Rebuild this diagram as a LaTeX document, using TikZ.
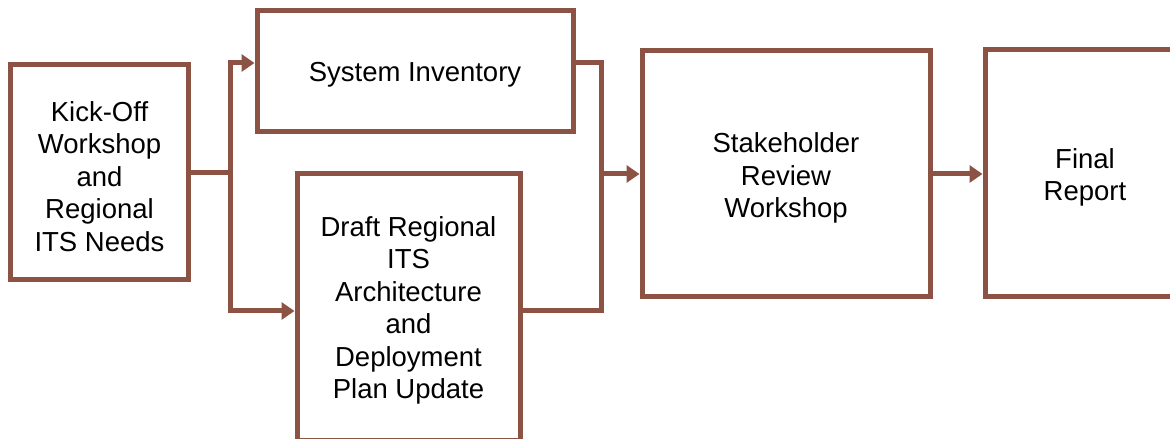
\documentclass[tikz,border=0pt]{standalone}
\usepackage{fontspec}
\setmainfont{Liberation Sans}
\usetikzlibrary{arrows.meta,calc}
\definecolor{brn}{HTML}{8C5344}
\tikzset{
  box/.style={draw=brn, line width=5pt, fill=white, inner sep=0pt},
  btext/.style={align=center, inner sep=0pt, yshift=-4pt,
    font=\fontsize{27.5}{32.5}\selectfont, text=black},
  conn/.style={draw=brn, line width=5pt, line join=miter},
  arr/.style={conn, -{Triangle[length=13pt,width=17pt]}}
}
\begin{document}
\begin{tikzpicture}[x=1pt,y=1pt]
\useasboundingbox (0,0) rectangle (1170,439);
\clip (0,0) rectangle (1170,439);
\node[box, minimum width=178pt, minimum height=215.5pt,
  label={[btext]center:{Kick-Off\\Workshop\\and\\Regional\\ITS Needs}}] (k) at (99.5,266.75) {};
\node[box, minimum width=316pt, minimum height=121.5pt,
  label={[btext]center:{System Inventory}}] (s) at (415,367.75) {};
\node[box, minimum width=223pt, minimum height=267pt,
  label={[btext,yshift=1pt]center:{Draft Regional\\ITS\\Architecture\\and\\Deployment\\Plan Update}}] (d) at (408.5,131.5) {};
\node[box, minimum width=288pt, minimum height=246pt,
  label={[btext]center:{Stakeholder\\Review\\Workshop}}] (st) at (786,265) {};
\node[box, minimum width=200pt, minimum height=247pt,
  label={[btext]center:{Final\\Report}}] (f) at (1085,265.5) {};
\coordinate (lt) at (230,376);
\coordinate (lm) at (230,266);
\coordinate (lb) at (230,128);
\coordinate (rt) at (601,376);
\coordinate (rm) at (601,265);
\coordinate (rb) at (601,128);
\draw[conn] (k.east |- lm) -- (lm);
\draw[arr] (lb) -- (lt) -- (lt -| s.west);
\draw[arr] (lt) -- (lb) -- (lb -| d.west);
\draw[conn] (s.east |- rt) -- (rt) -- (rb) -- (d.east |- rb);
\draw[arr] (rm) -- (rm -| st.west);
\draw[arr] (st.east) -- (st.east -| f.west);
\end{tikzpicture}
\end{document}
